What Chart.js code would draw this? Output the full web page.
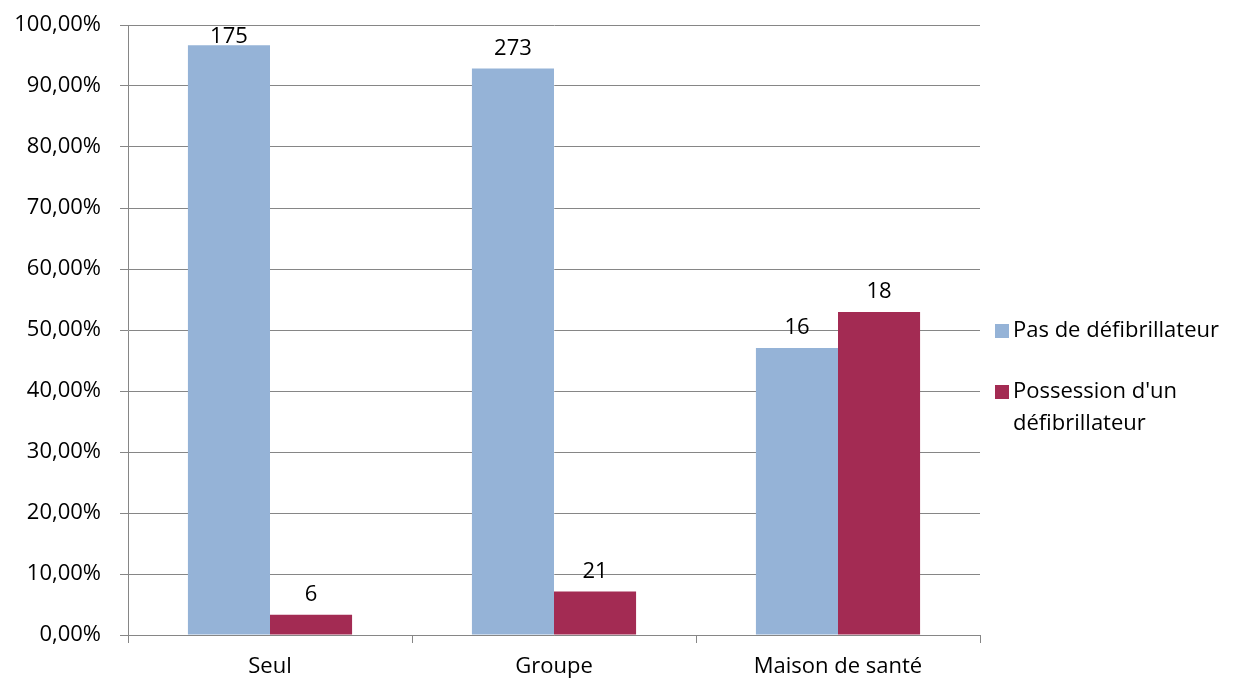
<!DOCTYPE html>
<html>
<head>
<meta charset="utf-8">
<script src="https://cdn.jsdelivr.net/npm/chart.js@4.4.0/dist/chart.umd.min.js"></script>
<style>
  html, body { margin: 0; padding: 0; background: #fff; }
  #wrap { width: 1233px; height: 679px; }
</style>
</head>
<body>
<div id="wrap"><canvas id="chart" width="1233" height="679"></canvas></div>
<script>
const categories = ["Seul", "Groupe", "Maison de santé"];
const seriesNames = ["Pas de défibrillateur", "Possession d'un défibrillateur"];
const legendLines = [["Pas de défibrillateur"], ["Possession d'un", "défibrillateur"]];
const pctSans = [96.69, 92.86, 47.06];
const pctAvec = [3.31, 7.14, 52.94];
const countSans = [175, 273, 16];
const countAvec = [6, 21, 18];
const colors = ["#95B3D7", "#A32B53"];

const FONT = "'Open Sans', 'Noto Sans', sans-serif";
const FSIZE = 22;

const countLabels = {
  id: "countLabels",
  afterDatasetsDraw(chart) {
    const ctx = chart.ctx;
    const counts = [countSans, countAvec];
    ctx.save();
    ctx.font = FSIZE + "px " + FONT;
    ctx.fillStyle = "#000";
    ctx.textAlign = "center";
    ctx.textBaseline = "middle";
    chart.data.datasets.forEach((ds, i) => {
      chart.getDatasetMeta(i).data.forEach((bar, j) => {
        const y = Math.max(bar.y - 20, chart.chartArea.top + 12);
        ctx.fillText(String(counts[i][j]), bar.x, y);
      });
    });
    ctx.restore();
  }
};

const sideLegend = {
  id: "sideLegend",
  afterDraw(chart) {
    const ctx = chart.ctx;
    const x = chart.chartArea.right + 15;
    const rows = [331, 392];
    ctx.save();
    ctx.font = FSIZE + "px " + FONT;
    ctx.textBaseline = "middle";
    legendLines.forEach((lines, i) => {
      ctx.fillStyle = colors[i];
      ctx.fillRect(x, rows[i] - 7, 14, 14);
      ctx.fillStyle = "#000";
      lines.forEach((t, k) => ctx.fillText(t, x + 18, rows[i] + k * 32));
    });
    ctx.restore();
  }
};

new Chart(document.getElementById("chart"), {
  type: "bar",
  data: {
    labels: categories,
    datasets: [
      { label: seriesNames[0], data: pctSans, backgroundColor: colors[0], borderWidth: 0 },
      { label: seriesNames[1], data: pctAvec, backgroundColor: colors[1], borderWidth: 0 }
    ]
  },
  options: {
    responsive: false,
    animation: false,
    layout: { padding: { top: 25, right: 253, left: 6, bottom: 0 } },
    plugins: {
      legend: { display: false },
      tooltip: { enabled: false }
    },
    datasets: {
      bar: { categoryPercentage: 0.578, barPercentage: 1.0 }
    },
    scales: {
      x: {
        offset: true,
        afterFit: s => { s.height = 44; s.paddingLeft = 0; s.paddingRight = 0; },
        grid: {
          offset: true,
          drawOnChartArea: false,
          drawTicks: true,
          tickLength: 8,
          color: "#868686"
        },
        border: { color: "#868686", width: 1 },
        ticks: { color: "#000", font: { family: FONT, size: FSIZE }, padding: 11 }
      },
      y: {
        min: 0,
        max: 100,
        afterFit: s => { s.width = 122; s.paddingTop = 0; s.paddingBottom = 0; },
        ticks: {
          stepSize: 10,
          color: "#000",
          font: { family: FONT, size: FSIZE },
          padding: 19,
          callback: v => v.toFixed(2).replace(".", ",") + "%"
        },
        grid: { color: "#868686", tickLength: 8, lineWidth: 1 },
        border: { color: "#868686", width: 1 }
      }
    }
  },
  plugins: [countLabels, sideLegend]
});
</script>
</body>
</html>
